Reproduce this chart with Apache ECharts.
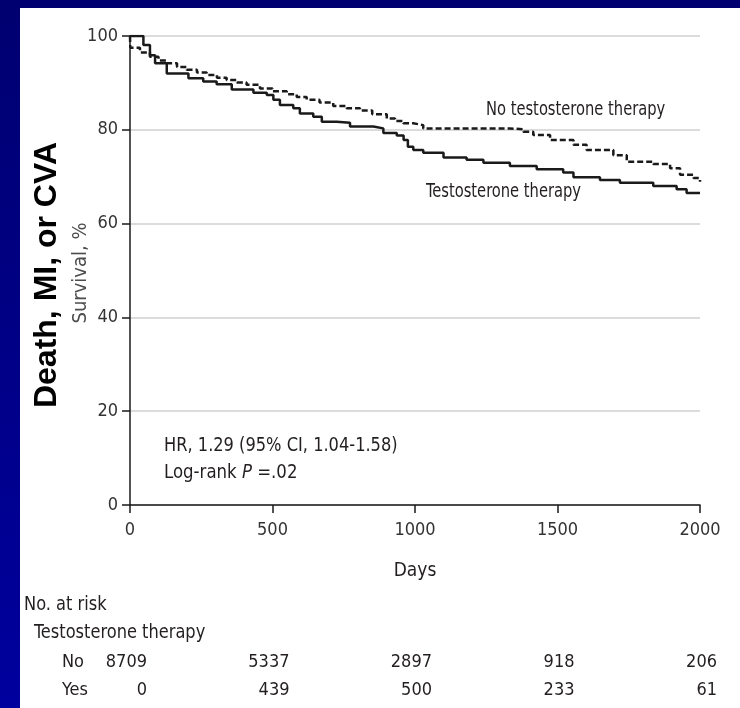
<!DOCTYPE html>
<html>
<head>
<meta charset="utf-8">
<script src="https://cdn.jsdelivr.net/npm/echarts@6/dist/echarts.min.js"></script>
<style>
  html, body { margin: 0; padding: 0; }
  body {
    width: 740px; height: 708px; overflow: hidden; position: relative;
    background: linear-gradient(to bottom, #000070 0%, #00009e 100%);
  }
  #chart {
    position: absolute; left: 20px; top: 8px; width: 720px; height: 700px;
    background: #ffffff;
  }
</style>
</head>
<body>
<div id="chart"></div>
<script>
// Kaplan-Meier curves: [day, survival % from that day on]
const testosteroneCurve = [
  [0, 100], [47, 98.1], [70, 95.9], [88, 94.2], [129, 92.0], [205, 91.0],
  [257, 90.3], [304, 89.7], [357, 88.6], [433, 87.9], [480, 87.4], [503, 86.4],
  [526, 85.3], [573, 84.6], [596, 83.5], [643, 82.8], [673, 81.7], [725, 81.5],
  [772, 80.7], [854, 80.3], [889, 79.3], [936, 78.8], [960, 77.8], [975, 76.4],
  [994, 75.7], [1029, 75.1], [1100, 74.1], [1181, 73.6], [1240, 73.0],
  [1333, 72.3], [1427, 71.6], [1520, 70.9], [1556, 69.9], [1649, 69.3],
  [1719, 68.7], [1836, 68.0], [1918, 67.3], [1953, 66.5], [2000, 66.5]
];
const noTestosteroneCurve = [
  [0, 100], [1, 97.5], [35, 96.5], [70, 95.6], [100, 94.8], [129, 94.2],
  [165, 93.4], [199, 92.8], [235, 92.2], [269, 91.7], [305, 91.1], [339, 90.6],
  [375, 90.1], [409, 89.6], [456, 88.8], [500, 88.2], [550, 87.6], [585, 87.0],
  [620, 86.4], [665, 85.8], [713, 85.1], [760, 84.6], [807, 84.1], [850, 83.3],
  [901, 82.4], [930, 81.9], [959, 81.4], [994, 81.0], [1029, 80.3], [1333, 80.1],
  [1380, 79.6], [1415, 78.9], [1474, 77.8], [1556, 76.8], [1602, 75.7],
  [1696, 74.6], [1743, 73.2], [1836, 72.7], [1895, 71.8], [1930, 70.4],
  [1977, 69.7], [2000, 68.9]
];

// Number at risk table
const riskDays = [0, 500, 1000, 1500, 2000];
const riskGroups = ['No', 'Yes'];
const riskNo = [8709, 5337, 2897, 918, 206];
const riskYes = [0, 439, 500, 233, 61];

// Axis ticks
const xTicks = { min: 0, max: 2000, interval: 500 };
const yTicks = { min: 0, max: 100, interval: 20 };

const narrow = '"Liberation Sans Narrow", "DejaVu Sans Condensed", "Arial Narrow", sans-serif';
const ink = '#231f20';

const riskPoints = [];
riskDays.forEach((d, i) => {
  riskPoints.push([d, 'No', riskNo[i]]);
  riskPoints.push([d, 'Yes', riskYes[i]]);
});

// condensed annotation text, squeezed horizontally
function note(text, x, y, size, sx, extra) {
  return {
    type: 'text', x: x, y: y, scaleX: sx, scaleY: 1,
    style: Object.assign({
      text: text, fill: ink, font: size + 'px ' + narrow, textVerticalAlign: 'middle'
    }, extra || {})
  };
}

const chart = echarts.init(document.getElementById('chart'), null, { renderer: 'canvas' });

chart.setOption({
  animation: false,
  grid: [
    { left: 110, right: 40, top: 28, bottom: 203, containLabel: false },
    { left: 110, right: 40, top: 640, height: 56, containLabel: false }
  ],
  xAxis: [
    {
      gridIndex: 0, type: 'value',
      min: xTicks.min, max: xTicks.max, interval: xTicks.interval,
      name: 'Days', nameLocation: 'middle', nameGap: 57,
      nameTextStyle: { fontFamily: narrow, fontSize: 19, color: ink },
      axisLine: { show: true, onZero: false, lineStyle: { color: '#1a1a1a', width: 1.5 } },
      axisTick: { show: true, inside: false, length: 8, lineStyle: { color: '#1a1a1a', width: 1.5 } },
      axisLabel: { fontFamily: narrow, fontSize: 18, color: '#333', margin: 16, formatter: v => String(v) },
      splitLine: { show: false }
    },
    {
      gridIndex: 1, type: 'value',
      min: xTicks.min, max: xTicks.max,
      show: false
    }
  ],
  yAxis: [
    {
      gridIndex: 0, type: 'value',
      min: yTicks.min, max: yTicks.max, interval: yTicks.interval,
      axisLine: { show: true, lineStyle: { color: '#1a1a1a', width: 1.5 } },
      axisTick: { show: true, inside: false, length: 8, lineStyle: { color: '#1a1a1a', width: 1.5 } },
      axisLabel: { fontFamily: narrow, fontSize: 18, color: '#333', margin: 12 },
      splitLine: { show: true, lineStyle: { color: '#dcdcdc', width: 2 } }
    },
    {
      gridIndex: 1, type: 'category', data: riskGroups, inverse: true,
      axisLine: { show: false }, axisTick: { show: false },
      splitLine: { show: false },
      axisLabel: { align: 'left', margin: 68, fontFamily: narrow, fontSize: 18, color: ink }
    }
  ],
  series: [
    {
      name: 'Testosterone therapy', type: 'line', step: 'end',
      xAxisIndex: 0, yAxisIndex: 0,
      data: testosteroneCurve, showSymbol: false, z: 5,
      lineStyle: { color: '#1a1a1a', width: 2.5, type: 'solid' }
    },
    {
      name: 'No testosterone therapy', type: 'line', step: 'end',
      xAxisIndex: 0, yAxisIndex: 0,
      data: noTestosteroneCurve, showSymbol: false, z: 4,
      lineStyle: { color: '#1a1a1a', width: 2.5, type: [6, 3] }
    },
    {
      name: 'No. at risk', type: 'scatter',
      xAxisIndex: 1, yAxisIndex: 1,
      symbolSize: 0,
      itemStyle: { opacity: 1 },
      data: riskPoints,
      label: {
        show: true, position: 'inside', align: 'right', offset: [17, 0],
        fontFamily: narrow, fontSize: 18, color: ink,
        formatter: p => String(p.value[2])
      }
    }
  ],
  graphic: [
    {
      type: 'text', rotation: Math.PI / 2, x: 27, y: 267,
      style: {
        text: 'Death, MI, or CVA', fill: '#000',
        font: 'bold 32px "Liberation Sans", Arial, sans-serif',
        textAlign: 'center', textVerticalAlign: 'middle'
      }
    },
    {
      type: 'text', rotation: Math.PI / 2, x: 61, y: 265,
      style: {
        text: 'Survival, %', fill: '#4d4d4d',
        font: '20px ' + narrow,
        textAlign: 'center', textVerticalAlign: 'middle'
      }
    },
    note('No testosterone therapy', 466, 102, 19, 0.86),
    note('Testosterone therapy', 406, 184, 19, 0.86),
    note('HR, 1.29 (95% CI, 1.04-1.58)', 144, 438, 19, 0.95),
    note('Log-rank {i|P} =.02', 144, 465, 19, 0.97, {
      rich: { i: { fontStyle: 'italic', fontFamily: narrow, fontSize: 19, fill: ink } }
    }),
    note('No. at risk', 4, 597, 19, 0.95),
    note('Testosterone therapy', 14, 625, 19, 0.95)
  ]
});
</script>
</body>
</html>
